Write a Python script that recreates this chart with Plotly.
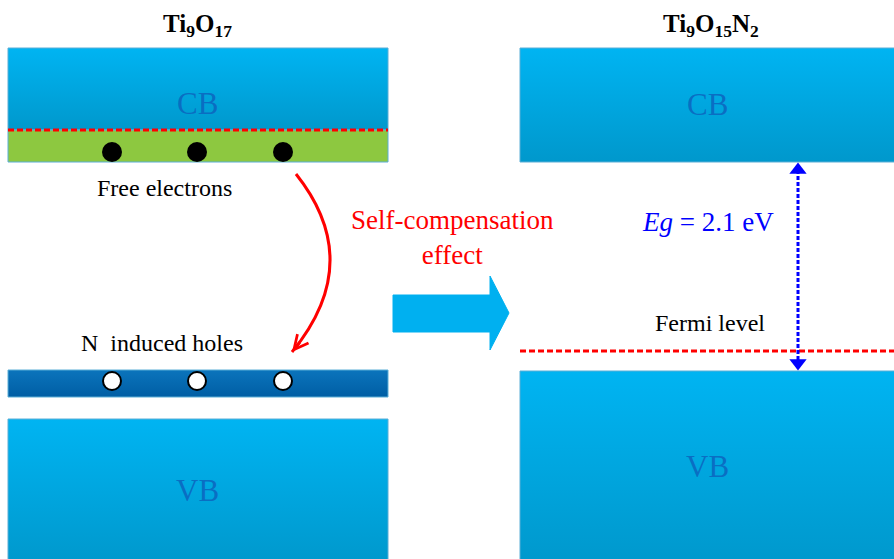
import plotly.graph_objects as go

# ---- diagram data (pixel-space energy-level layout) ----
panel_left_x = [8, 388]
panel_right_x = [520, 900]

# band edges (top, bottom) in diagram units
left_cb = [48, 130]
left_donor_band = [130, 162]
left_acceptor_band = [370, 397]
left_vb = [419, 565]
right_cb = [48, 162]
right_vb = [371, 565]

fermi_left_y = 130
fermi_right_y = 351

carrier_x = [112, 197, 283]
electron_y = [152, 152, 152]
hole_y = [381, 381, 381]

gap_x = 798
gap_label = "<i>Eg</i> = 2.1 eV"

titles = ["Ti<sub>9</sub>O<sub>17</sub>", "Ti<sub>9</sub>O<sub>15</sub>N<sub>2</sub>"]
title_x = [197, 711]

curve_start = [296, 174]
curve_ctrl = [366, 262]
curve_end = [292, 352]

big_arrow_x = [393, 490, 509]
big_arrow_y = [276, 295, 313, 332, 350]

CB_BLUE_TOP = "#00b4f2"
CB_BLUE_BOT = "#0098cc"
DARK_TOP = "#0b74bc"
DARK_BOT = "#005ea4"
GREEN = "#8dc840"
LABEL_BLUE = "rgba(12,100,190,0.85)"
FONT = "Liberation Serif, Times New Roman, Times, serif"

W, H = 894, 559

fig = go.Figure()


def band(xr, yr, ctop, cbot):
    fig.add_trace(go.Scatter(
        x=[xr[0], xr[1], xr[1], xr[0], xr[0]],
        y=[yr[0], yr[0], yr[1], yr[1], yr[0]],
        mode="lines", fill="toself",
        line=dict(width=1, color="#5aaed6"),
        fillgradient=dict(type="vertical", colorscale=[[0, cbot], [1, ctop]]),
        hoverinfo="skip", showlegend=False))


band(panel_left_x, left_cb, CB_BLUE_TOP, CB_BLUE_BOT)
band(panel_left_x, left_donor_band, GREEN, GREEN)
band(panel_left_x, left_acceptor_band, DARK_TOP, DARK_BOT)
band(panel_left_x, left_vb, CB_BLUE_TOP, CB_BLUE_BOT)
band(panel_right_x, right_cb, CB_BLUE_TOP, CB_BLUE_BOT)
band(panel_right_x, right_vb, CB_BLUE_TOP, CB_BLUE_BOT)

# Fermi / dashed lines
for xr, yv in [(panel_left_x, fermi_left_y), (panel_right_x, fermi_right_y)]:
    fig.add_trace(go.Scatter(x=xr, y=[yv, yv], mode="lines",
                             line=dict(color="#ff0000", width=2.8, dash="6px,3px"),
                             hoverinfo="skip", showlegend=False))

# electrons and holes
fig.add_trace(go.Scatter(x=carrier_x, y=electron_y, mode="markers",
                         marker=dict(size=20, color="black", line=dict(width=0)),
                         hoverinfo="skip", showlegend=False))
fig.add_trace(go.Scatter(x=carrier_x, y=hole_y, mode="markers",
                         marker=dict(size=18, color="white", line=dict(width=2, color="black")),
                         hoverinfo="skip", showlegend=False))

# band gap arrow (dotted, double-headed)
fig.add_trace(go.Scatter(x=[gap_x, gap_x], y=[right_cb[1] + 8, right_vb[0] - 8], mode="lines",
                         line=dict(color="#0000ff", width=3, dash="4px,2px"),
                         hoverinfo="skip", showlegend=False))
fig.add_trace(go.Scatter(x=[gap_x, gap_x], y=[right_cb[1] + 8, right_vb[0] - 8], mode="markers",
                         marker=dict(symbol=["triangle-up", "triangle-down"], size=15, color="#0000ff"),
                         hoverinfo="skip", showlegend=False))

shapes = []
# curved red arrow
shapes.append(dict(type="path", xref="x", yref="y",
                   path=f"M {curve_start[0]},{curve_start[1]} Q {curve_ctrl[0]},{curve_ctrl[1]} {curve_end[0]},{curve_end[1]}",
                   line=dict(color="#ff0000", width=3)))
# big blue arrow
ax0, ax1, ax2 = big_arrow_x
ay0, ay1, ay2, ay3, ay4 = big_arrow_y
shapes.append(dict(type="path", xref="x", yref="y",
                   path=f"M {ax0},{ay1} L {ax1},{ay1} L {ax1},{ay0} L {ax2},{ay2} L {ax1},{ay4} L {ax1},{ay3} L {ax0},{ay3} Z",
                   fillcolor="#00b0f0", line=dict(color="#00b0f0", width=1)))

annotations = []


def txt(x, y, t, size, color="black", bold=False):
    annotations.append(dict(x=x, y=y, xref="x", yref="y", text=(f"<b>{t}</b>" if bold else t),
                            showarrow=False, font=dict(family=FONT, size=size, color=color),
                            xanchor="center", yanchor="middle"))


for tx, tt in zip(title_x, titles):
    txt(tx, 25, tt, 25, bold=True)

txt(197, 103, "CB", 31, LABEL_BLUE)
txt(197, 490, "VB", 31, LABEL_BLUE)
txt(707, 104, "CB", 31, LABEL_BLUE)
txt(707, 466, "VB", 31, LABEL_BLUE)
txt(164, 188, "Free electrons", 24)
txt(162, 343, "N&nbsp;&nbsp;induced holes", 24)
txt(452, 237, "Self-compensation<br>effect", 27, "#ff0000")
txt(708, 222, gap_label, 27, "#0000ff")
txt(710, 323, "Fermi level", 24)

# arrowhead of the curved arrow
annotations.append(dict(x=curve_end[0], y=curve_end[1], xref="x", yref="y", text="",
                        showarrow=True, arrowhead=5, arrowsize=1, arrowwidth=2.8,
                        arrowcolor="#ff0000", ax=9, ay=-11, standoff=0))

fig.update_layout(
    width=W, height=H,
    margin=dict(l=0, r=0, t=0, b=0),
    paper_bgcolor="white", plot_bgcolor="white",
    xaxis=dict(range=[0, W], visible=False, fixedrange=True),
    yaxis=dict(range=[H, 0], visible=False, fixedrange=True),
    shapes=shapes, annotations=annotations, showlegend=False,
)

fig.write_html("out.html", config={"displayModeBar": False},
               post_script="document.body.style.margin='0px';document.body.style.overflow='hidden';")
